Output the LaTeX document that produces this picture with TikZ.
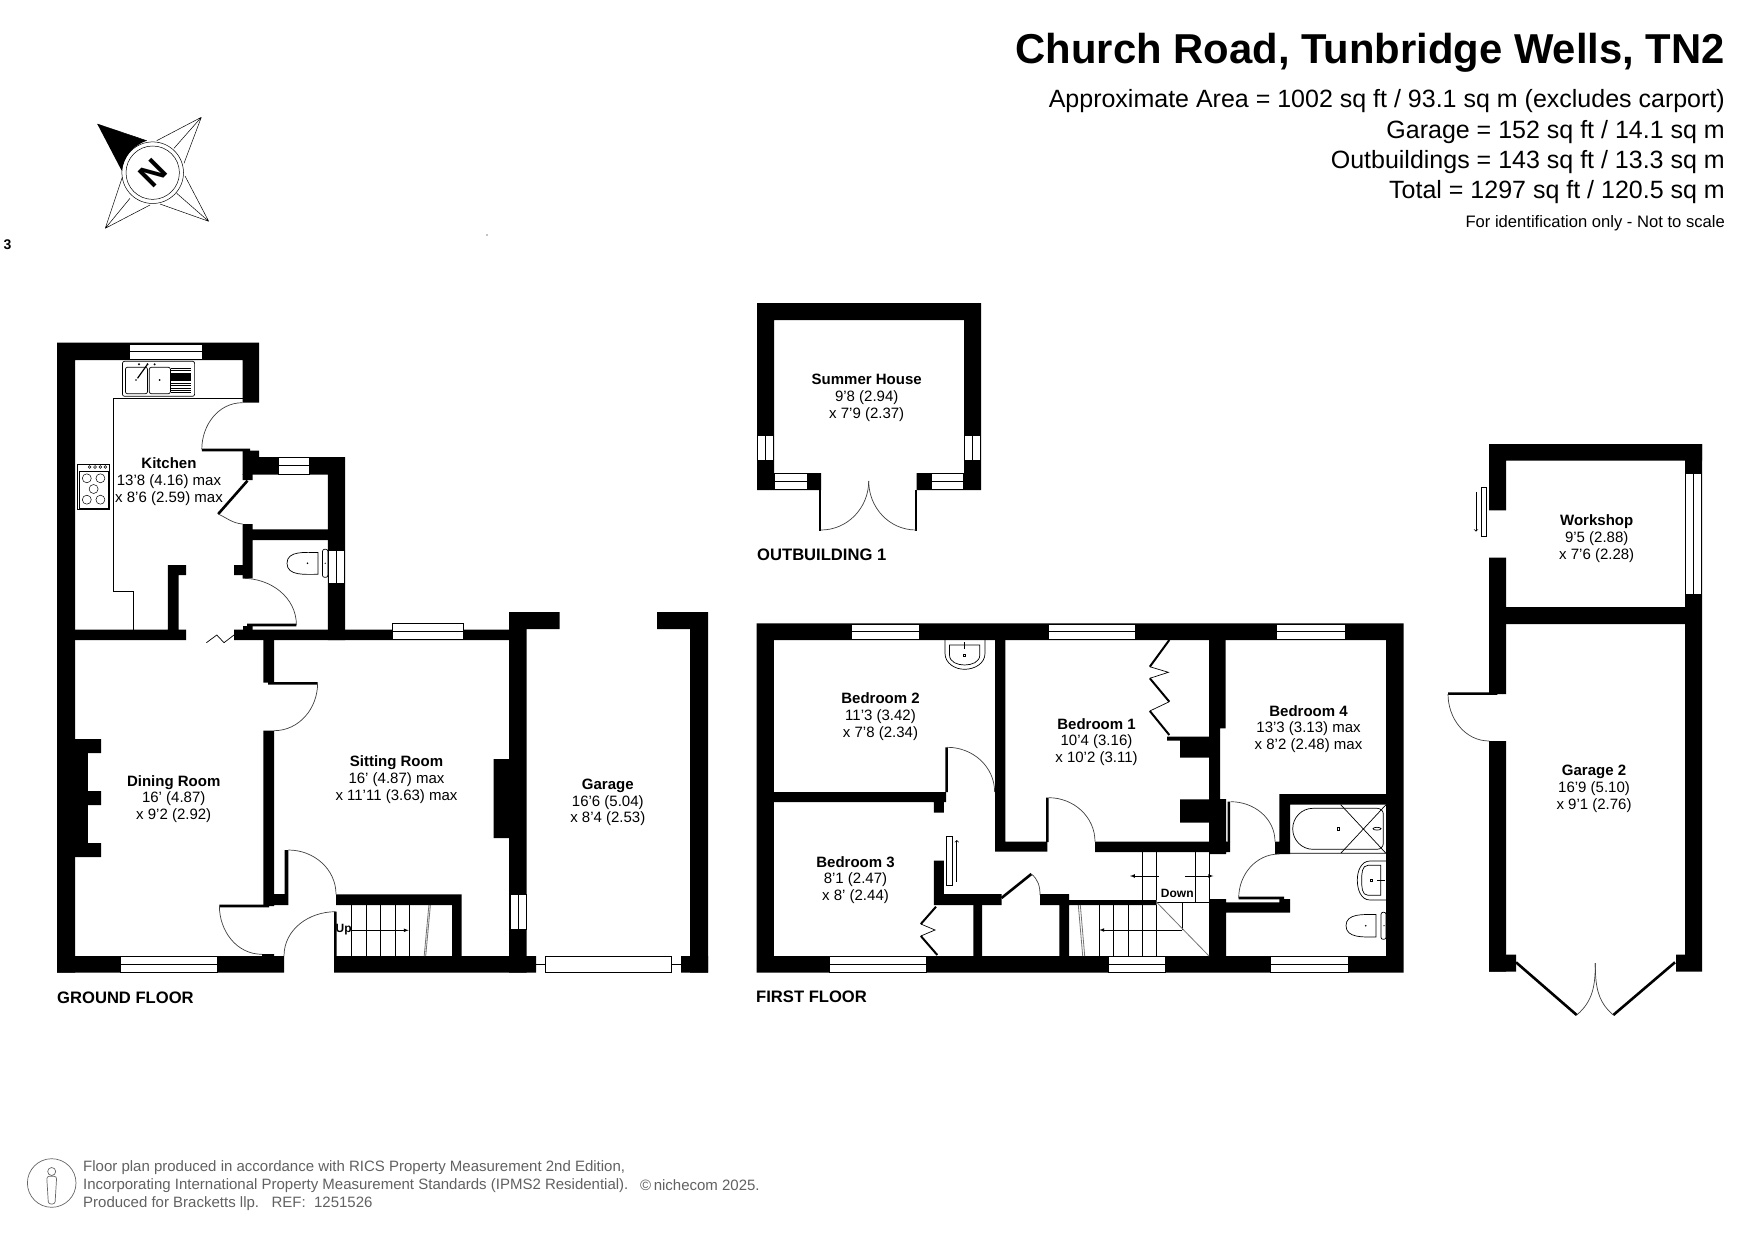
\documentclass[tikz,border=0pt]{standalone}
\usepackage{fontspec}
\setmainfont{Liberation Sans}
\usetikzlibrary{arrows}
\tikzset{
  wall/.style={fill=black},
  pane/.style={draw=black,line width=0.7pt,fill=white},
  fine/.style={draw=black,line width=0.7pt},
  swing/.style={draw=black!75,line width=0.7pt},
  leaf/.style={draw=black,line width=2.6pt},
  greyline/.style={draw=black!55,line width=0.8pt},
  roomlabel/.style={align=center,inner sep=0pt,yshift=-1.5pt,font=\fontsize{15}{16.7}\selectfont},
  floorlabel/.style={anchor=west,inner sep=0pt,font=\fontsize{16.6}{18}\selectfont\bfseries},
  headline/.style={anchor=base east,inner sep=0pt,font=\fontsize{25}{27}\selectfont},
  footline/.style={anchor=west,inner sep=0pt,text=black!62,font=\fontsize{15}{18}\selectfont},
}
\newcommand{\hwin}[4]{\draw[pane] (#1,#3) rectangle (#2,#4); \draw[fine] (#1,{(#3+#4)/2}) -- (#2,{(#3+#4)/2});}
\newcommand{\vwin}[4]{\draw[pane] (#1,#3) rectangle (#2,#4); \draw[fine] ({(#1+#2)/2},#3) -- ({(#1+#2)/2},#4);}
\begin{document}
\begin{tikzpicture}[x=1pt,y=-1pt]
\fill[white] (0,0) rectangle (1755,1241);
\useasboundingbox (0,0) rectangle (1755,1241);
% compass
\draw[fine,line width=0.5pt] (97.3,124) -- (146.7,140.7) (201.3,117.3) -- (156.7,140.7) (201.3,117.3) -- (184,163.3) (201.3,117.3) -- (174,148.3);
\draw[fine,line width=0.5pt] (208.7,221.3) -- (185,176) (208.7,221.3) -- (160,204) (208.7,221.3) -- (176.7,193.3);
\draw[fine,line width=0.5pt] (105.3,228.3) -- (122.3,177.3) (105.3,228.3) -- (150,205) (105.3,228.3) -- (130,198.3);
\fill[black] (97.3,124) -- (146.7,140.7) to[out=200,in=80] (121.7,170.7) -- cycle;
\draw[fine,line width=0.5pt] (152.7,172.7) circle (30.8) circle (26.7);
\node[rotate=45,inner sep=0pt,font=\fontsize{33}{33}\selectfont\bfseries] (north) at (152.7,172.7) {N};
\node[inner sep=0pt,font=\fontsize{14}{14}\selectfont\bfseries] (sheetno) at (7.5,245) {3};
\fill[black] (487,235) circle (0.7);
% ground floor
\fill[wall] (57,342.7) rectangle (259,360) (57,342.7) rectangle (75,972.7) (242.5,342.7) rectangle (259,402.7);
\fill[wall] (242.5,450.7) rectangle (259,457) (242.5,457) rectangle (345,474.7) (327.9,457) rectangle (345,640);
\fill[wall] (242.5,474) rectangle (252.5,480) (242.5,524) rectangle (252.5,578.3) (252.5,529.3) rectangle (328,540);
\fill[wall] (234,565) rectangle (243,575) (243,626) rectangle (252.5,630);
\fill[wall] (57,629.7) rectangle (186,640) (234,629.7) rectangle (509,640) (167.9,565) rectangle (178.6,630) (167.9,565) rectangle (186,575);
\fill[wall] (509,612) rectangle (559.5,629) (509,612) rectangle (526.7,972.7) (657,612) rectangle (708,629) (690,612) rectangle (708,972.7);
\fill[wall] (263.3,640) rectangle (274,682.7) (263.3,730.7) rectangle (274,906) (263.3,894) rectangle (288.3,905) (284.6,850) rectangle (288.3,905);
\fill[wall] (75,739) rectangle (101,753) (75,739) rectangle (87.8,857) (75,791) rectangle (101,805) (75,843) rectangle (101,857);
\fill[wall] (57,956) rectangle (284,972.7) (262,954) rectangle (274,956) (336,956) rectangle (536,972.7) (334,911.7) rectangle (336.5,972.7);
\fill[wall] (336,894.3) rectangle (461.5,905) (452,894.3) rectangle (461.5,956) (493.6,759) rectangle (510,838) (681,956) rectangle (708,972.7);
\draw[leaf] (201.8,450) -- (250,450) (247.5,480.7) -- (218.2,514) (247,625) -- (296.4,625) (268,683.3) -- (317.6,683.3) (219.4,906) -- (269,906);
\draw[swing] (242.5,402.7) to[out=180,in=90] (201.8,449.3);
\draw[swing] (218.2,514) to[out=-25,in=175] (242.5,524);
\draw[swing] (242.9,578.3) to[out=0,in=90] (296.4,625);
\draw[swing] (317.6,683.3) to[out=270,in=0] (274,730.7);
\draw[swing] (288.3,850) to[out=0,in=90] (336,894.3);
\draw[swing] (219.4,906) to[out=270,in=180] (262,954.3);
\draw[swing] (335.5,911.7) to[out=180,in=90] (284,956);
\draw[fine] (206.4,642.7) -- (216.8,635) -- (224,642.7) -- (234,635);
\hwin{129.6}{202}{344}{359.3}
\hwin{277.9}{309.3}{457.3}{474.3}
\vwin{328}{344.6}{550.7}{583}
\hwin{392}{463}{623.7}{639.3}
\hwin{120.8}{217.6}{956.7}{972.3}
\vwin{510}{526.7}{894}{929}
\draw[fine] (536,964) -- (545.5,964) (671.6,964) -- (681,964);
\draw[pane] (545.5,956) rectangle (671.6,972.3);
% kitchen fittings
\draw[fine] (242.5,398.3) -- (113.2,398.3) -- (113.2,591) -- (132.9,591) -- (132.9,630);
\draw[fine,rounded corners=2pt] (122.5,361.3) rectangle (194.6,396.3);
\draw[fine,rounded corners=2pt] (125.4,367.3) rectangle (147.5,393.7) (149.3,367.3) rectangle (170.4,393.7);
\foreach \ypos in {368,370.5,373,383,385.5,388,390.5,392.7} \draw[fine] (170.7,\ypos) -- (191,\ypos);
\fill[black] (170.7,373.3) rectangle (191,381);
\draw[fine,line width=1.2pt] (137.5,378.3) -- (147,365);
\fill[black] (136,380) circle (0.9) (159.6,380) circle (0.9) (139,364.3) circle (1.1) (147.5,364.3) circle (1.1) (154.6,364.3) circle (1.1);
\draw[fine] (77.5,464) rectangle (109.6,509.7) (79.3,471.7) rectangle (108.2,508.3);
\draw[fine,line width=0.5pt] (86.8,478.3) circle (4.5) (100.4,478.3) circle (4.5) (93.6,489) circle (4.5) (86.8,499.7) circle (4.5) (100.4,499.7) circle (4.5);
\foreach \xpos in {89.6,95,100.4,105.4} \draw[fine,line width=0.5pt] (\xpos,467) circle (1.4);
% cloakroom wc
\draw[fine] (318,552.5) to[out=180,in=90] (287,563.3) to[out=270,in=180] (318,574.3) -- cycle;
\draw[fine,rounded corners=2pt] (322.5,549.3) rectangle (327.9,577.3);
\fill[black] (307.5,563.3) circle (0.9) (325.2,563.3) circle (0.7);
% stairs up
\foreach \xpos in {351.6,366.7,380.8,395.5,409.6} \draw[fine] (\xpos,905) -- (\xpos,956);
\draw[greyline] (430.4,905) -- (425.7,956) (428.9,905) -- (424.2,956);
\draw[fine,-latex] (351.6,930.3) -- (408.7,930.3);
\node[inner sep=0pt,font=\fontsize{12}{12}\selectfont\bfseries] (upmark) at (343.6,930) {Up};
% labels ground floor
\node[roomlabel] (kitchen) at (169,480) {\textbf{Kitchen}\\13'8 (4.16) max\\x 8'6 (2.59) max};
\node[roomlabel] (dining) at (173.7,797.5) {\textbf{Dining Room}\\16' (4.87)\\x 9'2 (2.92)};
\node[roomlabel] (sitting) at (396.5,778) {\textbf{Sitting Room}\\16' (4.87) max\\x 11'11 (3.63) max};
\node[roomlabel] (garage) at (607.8,801) {\textbf{Garage}\\16'6 (5.04)\\x 8'4 (2.53)};
\node[floorlabel] (groundfloor) at (57,998) {GROUND FLOOR};
% summer house
\fill[wall] (757,303) rectangle (981,320) (757,303) rectangle (774,490) (964,303) rectangle (981,490) (757,473) rectangle (821,490) (916.7,473) rectangle (981,490);
\draw[leaf,line width=1.8pt] (820.3,490) -- (820.3,530.7) (916.3,490) -- (916.3,530.7);
\draw[swing] (821,530) to[out=0,in=270] (868.7,481);
\draw[swing] (916,530) to[out=180,in=270] (868.7,481);
\vwin{757.7}{773.3}{435}{460}
\vwin{964.7}{980.3}{435}{460}
\hwin{774.7}{807.3}{473.3}{489.3}
\hwin{931}{963.3}{473.3}{489.3}
\node[roomlabel] (summer) at (866.7,396.5) {\textbf{Summer House}\\9'8 (2.94)\\x 7'9 (2.37)};
\node[floorlabel] (outbuilding) at (757,554.5) {OUTBUILDING 1};
% first floor
\fill[wall] (756.5,623.3) rectangle (1403.5,640) (756.5,623.3) rectangle (773.8,972.7) (1386,623.3) rectangle (1403.5,972.7) (756.5,956) rectangle (1403.5,972.7);
\fill[wall] (995,640) rectangle (1005.4,851.7) (995,841.7) rectangle (1047.3,851.7) (1095,841.7) rectangle (1226,852);
\fill[wall] (1209,640) rectangle (1225.7,728.3) (1209,728.3) rectangle (1220,799) (1209,799) rectangle (1226,854) (1226,841.7) rectangle (1230,852);
\fill[wall] (1167,736.7) rectangle (1209,740.7) (1180,736.7) rectangle (1209,757.7) (1180,799.3) rectangle (1209,822.7);
\fill[wall] (773.8,792) rectangle (946,802) (933.8,802) rectangle (943.8,812.7) (933.8,860.7) rectangle (943.8,905) (933.8,894) rectangle (1001.5,905);
\fill[wall] (1040,894) rectangle (1069,905) (1059.4,905) rectangle (1069,956) (1069,900) rectangle (1156.7,905) (973.3,905) rectangle (982,956);
\fill[wall] (1209,899) rectangle (1226,956) (1226,902.3) rectangle (1290,912.7) (1279.3,899) rectangle (1290,912.7);
\fill[wall] (1279.3,794) rectangle (1290,854) (1275,841.7) rectangle (1290,854) (1279.3,794) rectangle (1386,804.7);
\draw[leaf] (946.6,747.3) -- (946.6,792) (1047.4,797.7) -- (1047.4,842) (1228.8,801.7) -- (1228.8,842) (1001.5,898) -- (1031.4,874) (1238.7,898) -- (1284,898);
\draw[swing] (947.3,747.3) to[out=0,in=90] (994.6,792);
\draw[swing] (1048.7,797.7) to[out=0,in=90] (1095,841.7);
\draw[swing] (1230.7,801.7) to[out=0,in=90] (1275,841.7);
\draw[swing] (1238.7,898) to[out=90,in=180] (1279.3,854);
\draw[swing] (1031.4,874) to[out=-40,in=90] (1040,895);
% folding doors
\draw[leaf,line width=2pt] (1169.3,640) -- (1149.8,666.7) (1149.8,678.3) -- (1169.3,701.7) (1149.8,711) -- (1169.3,735) (936,906.7) -- (920.8,924) (920.8,936) -- (937.3,955);
\draw[fine] (1149.8,666.7) -- (1168.4,672.3) -- (1149.8,678.3) (1169.3,701.7) -- (1149.8,711) (920.8,924) -- (935,930) -- (920.8,936);
% sliding door
\draw[fine] (946.4,836.7) rectangle (952.5,885.7);
\draw[fine,->] (956.8,881.7) -- (956.8,840);
% windows first floor
\hwin{851}{919}{624}{639.3}
\hwin{1048.8}{1135.5}{624}{639.3}
\hwin{1276}{1345}{624}{639.3}
\hwin{829.8}{926.5}{956.7}{972.3}
\hwin{1108.6}{1165}{956.7}{972.3}
\hwin{1270}{1348.4}{956.7}{972.3}
% stairs down
\foreach \xpos in {1099.3,1113.3,1128.3,1142.7,1156.7} \draw[fine] (\xpos,905) -- (\xpos,956);
\draw[fine] (1142.7,852) -- (1142.7,900) (1156.7,852) -- (1156.7,900) (1195.3,852) -- (1195.3,902.3) (1209,854) -- (1209,899);
\draw[fine] (1156.7,902.3) -- (1209,902.3) (1182.3,902.3) -- (1182.3,930);
\draw[greyline] (1156.7,902.3) -- (1209,956) (1078.3,905) -- (1082.7,956) (1080.3,905) -- (1084.7,956);
\draw[fine,-latex] (1182.3,930) -- (1099.3,930);
\draw[fine,-latex] (1159,876) -- (1130,876);
\draw[fine,-latex] (1185,876) -- (1213.3,876);
\node[inner sep=0pt,font=\fontsize{12}{12}\selectfont\bfseries] (downmark) at (1177.3,893) {Down};
% bedroom basin
\draw[fine] (945,640) -- (945,653.3) to[out=270,in=180] (964.6,669.3) to[out=0,in=270] (985,653.3) -- (985,640);
\draw[fine] (949.5,645) -- (979.8,645) -- (979.8,655) to[out=270,in=0] (964.6,665) to[out=180,in=270] (949.5,655) -- cycle;
\draw[fine] (964.6,642) -- (964.6,649);
\draw[fine] (963.6,654) rectangle (965.6,656);
% bathroom
\draw[fine] (1313,808.3) -- (1377,808.3) to[out=0,in=90] (1383.3,814) -- (1383.3,843.5) to[out=270,in=0] (1377,849.3) -- (1313,849.3) to[out=180,in=270] (1292.7,828.8) to[out=90,in=180] (1313,808.3) -- cycle;
\draw[fine] (1290,853.3) -- (1386,853.3) (1340.7,804.7) -- (1386,853.3) (1386,804.7) -- (1340.7,853.3);
\draw[fine] (1337.5,827.5) rectangle (1339.7,830.5);
\draw[fine] (1377,828.7) ellipse (4 and 1.4);
\draw[fine] (1386,861) -- (1370,861) to[out=180,in=90] (1357.3,880) to[out=270,in=180] (1370,900) -- (1386,900);
\draw[fine] (1380.7,865.3) -- (1368,865.3) to[out=180,in=90] (1361.7,880) to[out=270,in=180] (1368,895.3) -- (1380.7,895.3) -- cycle;
\draw[fine] (1370.7,879) rectangle (1372.7,881) (1377,880) -- (1385,880);
\draw[fine] (1376,914.5) to[out=180,in=90] (1346,925.7) to[out=270,in=180] (1376,937) -- cycle;
\draw[fine,rounded corners=2pt] (1381,912.3) rectangle (1386,939.3);
\fill[black] (1365.7,925.7) circle (0.9) (1384,925.7) circle (0.7);
% labels first floor
\node[roomlabel] (bedtwo) at (880.5,715) {\textbf{Bedroom 2}\\11'3 (3.42)\\x 7'8 (2.34)};
\node[roomlabel] (bedone) at (1096.5,740.5) {\textbf{Bedroom 1}\\10'4 (3.16)\\x 10'2 (3.11)};
\node[roomlabel] (bedfour) at (1308.5,727.5) {\textbf{Bedroom 4}\\13'3 (3.13) max\\x 8'2 (2.48) max};
\node[roomlabel] (bedthree) at (855.5,878.5) {\textbf{Bedroom 3}\\8'1 (2.47)\\x 8' (2.44)};
\node[floorlabel] (firstfloor) at (756,997) {FIRST FLOOR};
% workshop and garage 2
\fill[wall] (1489,444) rectangle (1702,460.7) (1489,444) rectangle (1506,510.3) (1489,557.6) rectangle (1506,694) (1489,741) rectangle (1506,971.5);
\fill[wall] (1506,607.2) rectangle (1685,624) (1685,444) rectangle (1702,971.5) (1489,954.5) rectangle (1516,971.5) (1676,954.5) rectangle (1702,971.5);
\draw[leaf] (1516,962.3) -- (1576.7,1015) (1675,962.3) -- (1613.3,1015) (1448,693.6) -- (1497.3,693.6);
\draw[swing] (1576.7,1015) to[out=40,in=270] (1595.3,963);
\draw[swing] (1613.3,1015) to[out=140,in=270] (1595.3,963);
\draw[swing] (1448,694) to[out=270,in=180] (1489.3,741);
\vwin{1685.7}{1701.3}{473.3}{594.2}
\draw[pane] (1481.3,487) rectangle (1486.7,536.3);
\draw[fine,->] (1476,491.8) -- (1476,531.6);
\node[roomlabel] (workshop) at (1596.7,537.3) {\textbf{Workshop}\\9'5 (2.88)\\x 7'6 (2.28)};
\node[roomlabel] (garagetwo) at (1594,787.5) {\textbf{Garage 2}\\16'9 (5.10)\\x 9'1 (2.76)};
% heading
\node[anchor=base east,inner sep=0pt,font=\fontsize{41.8}{44}\selectfont\bfseries] (title) at (1725,64) {Church Road, Tunbridge Wells, TN2};
\node[headline] (areaone) at (1725,108) {Approximate Area = 1002 sq ft / 93.1 sq m (excludes carport)};
\node[headline] (areatwo) at (1725,139) {Garage = 152 sq ft / 14.1 sq m};
\node[headline] (areathree) at (1725,169) {Outbuildings = 143 sq ft / 13.3 sq m};
\node[headline] (areafour) at (1725,199) {Total = 1297 sq ft / 120.5 sq m};
\node[anchor=base east,inner sep=0pt,font=\fontsize{16.6}{18}\selectfont] (notscale) at (1725,228) {For identification only - Not to scale};
% footer
\draw[fine,black!60] (51.7,1183) circle (24.3);
\draw[fine,black!60] (51.7,1171.5) circle (4);
\draw[fine,black!60,rounded corners=2.5pt] (46.7,1176.3) -- (56.7,1176.3) -- (55,1204) -- (48.4,1204) -- cycle;
\node[footline] (footone) at (83,1167.5) {Floor plan produced in accordance with RICS Property Measurement 2nd Edition,};
\node[footline] (foottwo) at (83,1185.5) {Incorporating International Property Measurement Standards (IPMS2 Residential).};
\node[footline] (footcopy) at (640,1185.5) {©\,nichecom 2025.};
\node[footline] (footthree) at (83,1203.5) {Produced for Bracketts llp.\ \ \ REF:\ \ 1251526};
\end{tikzpicture}
\end{document}
